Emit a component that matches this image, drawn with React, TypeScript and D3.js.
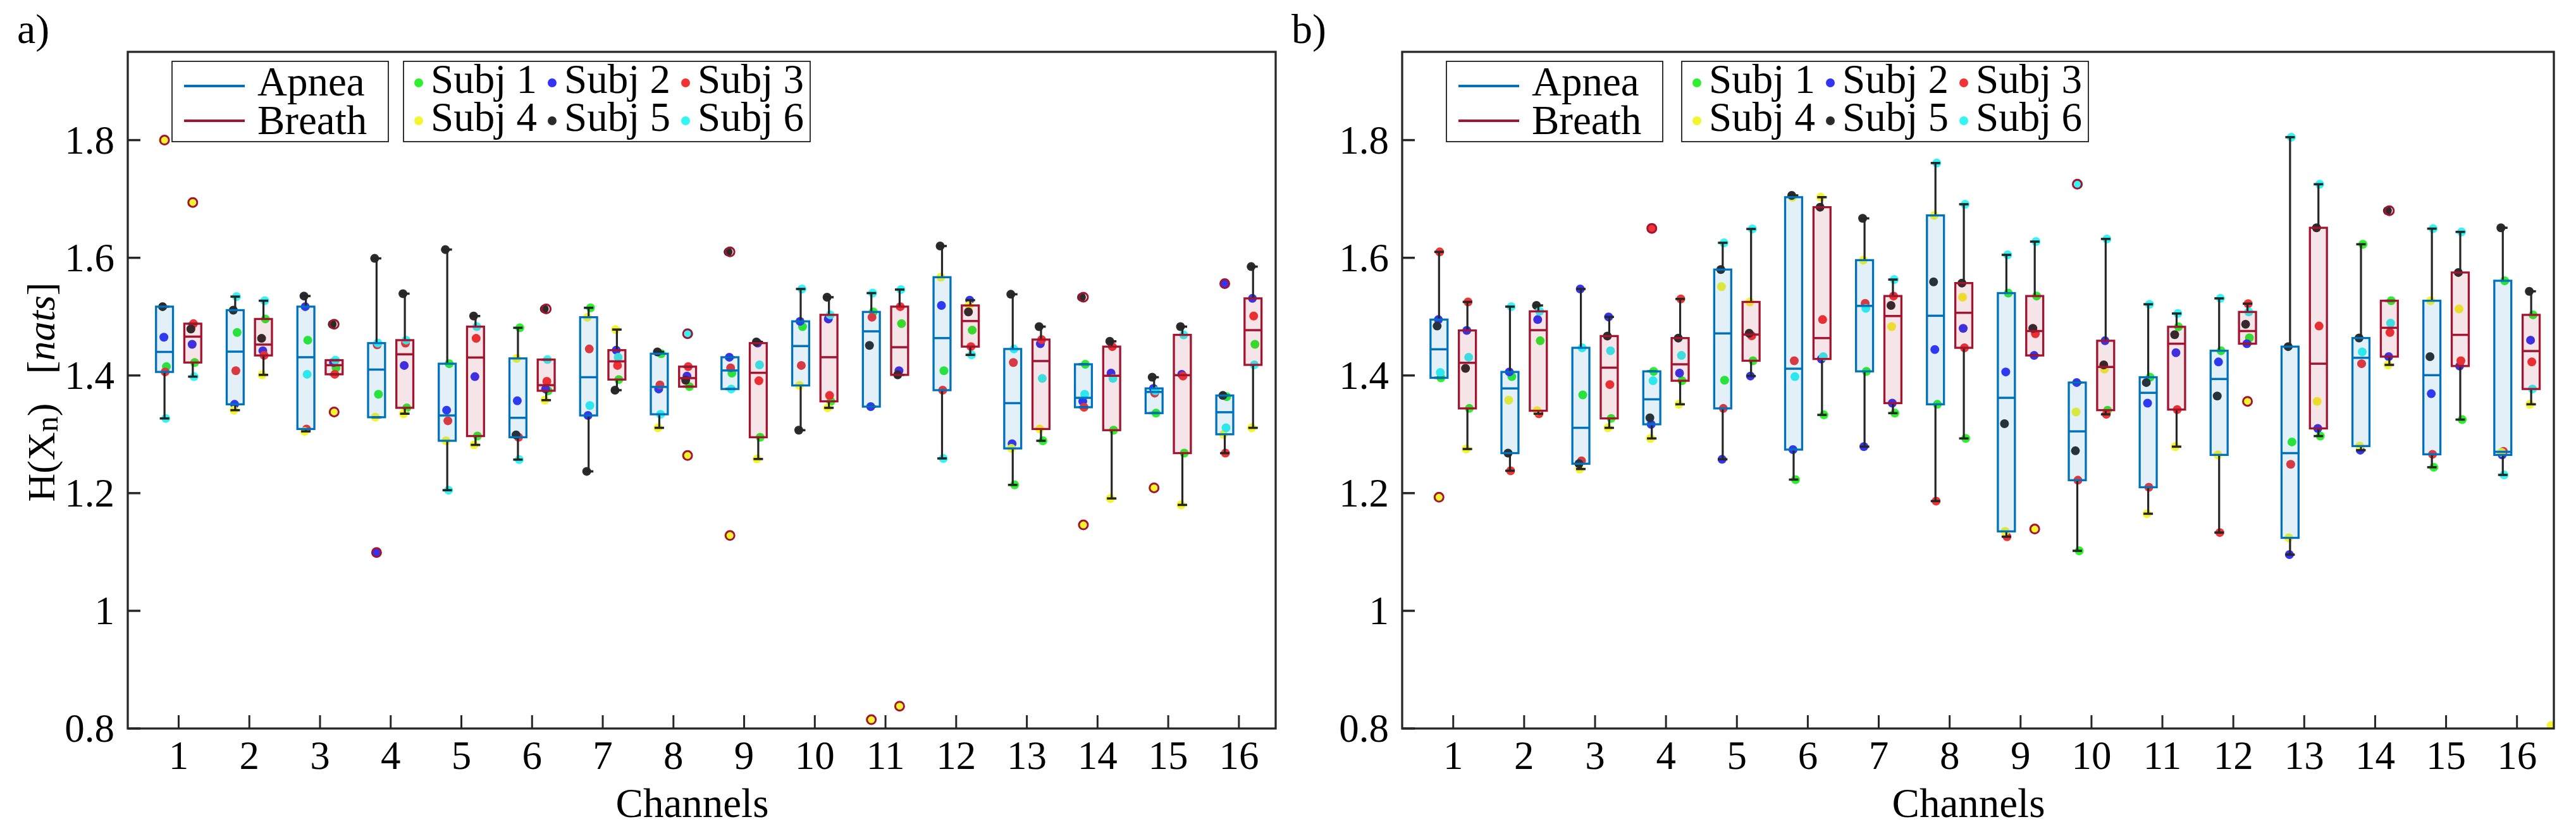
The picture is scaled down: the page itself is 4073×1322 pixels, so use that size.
import React from 'react';
import * as d3 from 'd3';

// ---------------- DATA ----------------
const channels = d3.range(1, 17);
const subjectNames = ['Subj 1', 'Subj 2', 'Subj 3', 'Subj 4', 'Subj 5', 'Subj 6'];
const subjectColors = ['#2EF02E', '#3333F5', '#F23333', '#F5F52E', '#2B2B2B', '#33F5F5'];
const conditionNames = ['Apnea', 'Breath'];
const conditionColors = ['#0072BD', '#A2142F'];
const yTicks = [0.8, 1, 1.2, 1.4, 1.6, 1.8];
const yTickLabels = ['0.8', '1', '1.2', '1.4', '1.6', '1.8'];
const panelLabels = ['a)', 'b)'];

// rows = channels 1..16, columns = Subj 1..6
const apneaA = [
  [1.415, 1.465, 1.406, 1.8, 1.517, 1.327],
  [1.473, 1.351, 1.408, 1.341, 1.511, 1.534],
  [1.46, 1.517, 1.309, 1.305, 1.535, 1.402],
  [1.368, 1.099, 1.452, 1.329, 1.599, 1.455],
  [1.42, 1.341, 1.323, 1.289, 1.614, 1.205],
  [1.481, 1.357, 1.295, 1.429, 1.299, 1.257],
  [1.515, 1.332, 1.445, 1.499, 1.237, 1.349],
  [1.437, 1.377, 1.384, 1.311, 1.44, 1.334],
  [1.404, 1.431, 1.413, 1.128, 1.61, 1.377],
  [1.483, 1.492, 1.417, 1.383, 1.307, 1.547],
  [1.508, 1.347, 1.499, 0.815, 1.451, 1.54],
  [1.408, 1.519, 1.375, 1.567, 1.62, 1.259],
  [1.214, 1.284, 1.422, 1.276, 1.538, 1.445],
  [1.419, 1.356, 1.346, 1.146, 1.533, 1.368],
  [1.336, 1.378, 1.37, 1.209, 1.397, 1.374],
  [1.364, 1.556, 1.268, 1.3, 1.366, 1.311],
];
const breathA = [
  [1.422, 1.453, 1.488, 1.694, 1.479, 1.398],
  [1.496, 1.442, 1.434, 1.401, 1.463, 1.527],
  [1.413, 1.422, 1.402, 1.338, 1.487, 1.426],
  [1.345, 1.417, 1.455, 1.335, 1.539, 1.46],
  [1.297, 1.398, 1.463, 1.282, 1.501, 1.483],
  [1.374, 1.377, 1.39, 1.358, 1.513, 1.427],
  [1.393, 1.443, 1.417, 1.478, 1.375, 1.431],
  [1.381, 1.399, 1.415, 1.264, 1.392, 1.471],
  [1.295, 1.455, 1.391, 1.258, 1.457, 1.418],
  [1.356, 1.496, 1.366, 1.345, 1.533, 1.503],
  [1.488, 1.408, 1.517, 0.838, 1.401, 1.546],
  [1.477, 1.528, 1.449, 1.519, 1.508, 1.435],
  [1.289, 1.454, 1.461, 1.309, 1.483, 1.395],
  [1.307, 1.404, 1.449, 1.191, 1.458, 1.395],
  [1.268, 1.402, 1.399, 1.18, 1.483, 1.469],
  [1.453, 1.531, 1.501, 1.311, 1.585, 1.418],
];
const apneaB = [
  [1.396, 1.495, 1.61, 1.193, 1.484, 1.405],
  [1.398, 1.406, 1.238, 1.358, 1.268, 1.517],
  [1.367, 1.547, 1.255, 1.241, 1.25, 1.447],
  [1.407, 1.317, 1.65, 1.293, 1.328, 1.391],
  [1.392, 1.2575, 1.344, 1.551, 1.58, 1.6255],
  [1.223, 1.274, 1.425, 1.703, 1.706, 1.398],
  [1.407, 1.279, 1.5225, 1.596, 1.667, 1.514],
  [1.351, 1.444, 1.1865, 1.672, 1.559, 1.761],
  [1.54, 1.406, 1.126, 1.135, 1.318, 1.605],
  [1.102, 1.388, 1.222, 1.338, 1.272, 1.725],
  [1.397, 1.353, 1.21, 1.165, 1.388, 1.521],
  [1.442, 1.423, 1.133, 1.265, 1.365, 1.531],
  [1.287, 1.0955, 1.249, 1.124, 1.449, 1.805],
  [1.623, 1.273, 1.42, 1.28, 1.4636, 1.44],
  [1.244, 1.369, 1.266, 1.527, 1.432, 1.6495],
  [1.561, 1.265, 1.271, 1.2695, 1.651, 1.231],
];
const breathB = [
  [1.344, 1.4765, 1.525, 1.275, 1.412, 1.431],
  [1.459, 1.495, 1.335, 1.34, 1.519, 1.509],
  [1.327, 1.4995, 1.3845, 1.311, 1.467, 1.442],
  [1.391, 1.404, 1.53, 1.351, 1.4635, 1.434],
  [1.425, 1.399, 1.4674, 1.525, 1.4717, 1.649],
  [1.333, 1.428, 1.495, 1.703, 1.686, 1.432],
  [1.336, 1.353, 1.535, 1.483, 1.519, 1.563],
  [1.293, 1.48, 1.447, 1.533, 1.557, 1.691],
  [1.535, 1.434, 1.471, 1.139, 1.48, 1.6275],
  [1.341, 1.459, 1.334, 1.411, 1.418, 1.632],
  [1.4827, 1.4386, 1.342, 1.279, 1.4693, 1.5053],
  [1.464, 1.454, 1.522, 1.356, 1.487, 1.508],
  [1.297, 1.31, 1.484, 1.356, 1.651, 1.725],
  [1.527, 1.432, 1.473, 1.418, 1.68, 1.489],
  [1.325, 1.416, 1.425, 1.513, 1.575, 1.644],
  [1.503, 1.46, 1.423, 1.351, 1.543, 1.377],
];
// a stray (clipped) point in the bottom-right corner of panel b
const strayChannelB = [16.48];
const strayValueB = [0.805];
const straySubjectB = [3];

// ---------------- STYLE / LAYOUT ----------------
const W = 4073;
const H = 1322;
const TOP = 82;
const BOTTOM = 1152;
const FONT = '"Liberation Serif", "Times New Roman", serif';
const AXIS = '#262626';
const OUTLIER = '#A2142F';
const jitterPx = [3, -1, 1, -2, -3, 2];

type PanelCfg = {
  left: number;
  right: number;
  apnea: number[][];
  breath: number[][];
  label: string;
  yLabel: boolean;
  leg1: number;
  leg2: number;
  strays: { ch: number; v: number; s: number }[];
  id: string;
};

function prctile(sorted: number[], p: number) {
  const n = sorted.length;
  const pos = p * n + 0.5;
  if (pos <= 1) return sorted[0];
  if (pos >= n) return sorted[n - 1];
  const i = Math.floor(pos);
  const f = pos - i;
  return sorted[i - 1] + f * (sorted[i] - sorted[i - 1]);
}

function boxStats(values: number[]) {
  const s = values.slice().sort(d3.ascending);
  const q1 = prctile(s, 0.25);
  const med = prctile(s, 0.5);
  const q3 = prctile(s, 0.75);
  const iqr = q3 - q1;
  const lo = q1 - 1.5 * iqr;
  const hi = q3 + 1.5 * iqr;
  const inside = s.filter((v) => v >= lo && v <= hi);
  return {
    q1,
    med,
    q3,
    wLo: d3.min(inside) as number,
    wHi: d3.max(inside) as number,
    outliers: s.filter((v) => v < lo || v > hi),
  };
}

const yScale = d3.scaleLinear().domain([0.8, 1.95]).range([BOTTOM, TOP]);

function Panel({ cfg }: { cfg: PanelCfg }) {
  const x = d3.scaleLinear().domain([0.28, 16.52]).range([cfg.left, cfg.right]);
  const unit = x(1) - x(0);
  const halfW = 0.12 * unit;
  const capHalf = 7.5;
  const groups = [
    { data: cfg.apnea, off: -0.2, ci: 0 },
    { data: cfg.breath, off: 0.2, ci: 1 },
  ];
  const clipId = 'clip-' + cfg.id;

  return (
    <g>
      <defs>
        <clipPath id={clipId}>
          <rect x={cfg.left} y={TOP} width={cfg.right - cfg.left} height={BOTTOM - TOP} />
        </clipPath>
      </defs>
      <g clipPath={`url(#${clipId})`}>
        {/* subject dots */}
        {groups.map((g) =>
          channels.map((ch, ci) =>
            g.data[ci].map((v, si) => (
              <circle
                key={`d-${g.ci}-${ch}-${si}`}
                cx={x(ch + g.off) + jitterPx[si]}
                cy={yScale(v)}
                r={7}
                fill={subjectColors[si]}
              />
            ))
          )
        )}
        {cfg.strays.map((p, i) => (
          <circle key={`st-${i}`} cx={x(p.ch)} cy={yScale(p.v)} r={7} fill={subjectColors[p.s]} />
        ))}
        {/* boxes */}
        {groups.map((g) =>
          channels.map((ch, ci) => {
            const st = boxStats(g.data[ci]);
            const cx = x(ch + g.off);
            const col = conditionColors[g.ci];
            return (
              <g key={`b-${g.ci}-${ch}`}>
                <line x1={cx} x2={cx} y1={yScale(st.q3)} y2={yScale(st.wHi)} stroke={AXIS} strokeWidth={3.2} />
                <line x1={cx} x2={cx} y1={yScale(st.q1)} y2={yScale(st.wLo)} stroke={AXIS} strokeWidth={3.2} />
                <line x1={cx - capHalf} x2={cx + capHalf} y1={yScale(st.wHi)} y2={yScale(st.wHi)} stroke={AXIS} strokeWidth={3.6} />
                <line x1={cx - capHalf} x2={cx + capHalf} y1={yScale(st.wLo)} y2={yScale(st.wLo)} stroke={AXIS} strokeWidth={3.6} />
                <rect
                  x={cx - halfW}
                  y={yScale(st.q3)}
                  width={2 * halfW}
                  height={yScale(st.q1) - yScale(st.q3)}
                  fill={col}
                  fillOpacity={0.11}
                  stroke={col}
                  strokeWidth={3.3}
                />
                <line x1={cx - halfW} x2={cx + halfW} y1={yScale(st.med)} y2={yScale(st.med)} stroke={col} strokeWidth={3.5} />
                {st.outliers.map((o, k) => (
                  <circle key={k} cx={cx} cy={yScale(o)} r={7} fill="none" stroke={OUTLIER} strokeWidth={3} />
                ))}
              </g>
            );
          })
        )}
      </g>

      {/* frame */}
      <rect x={cfg.left} y={TOP} width={cfg.right - cfg.left} height={BOTTOM - TOP} fill="none" stroke={AXIS} strokeWidth={3.3} />
      {/* y ticks */}
      {yTicks.map((t, i) => (
        <g key={`yt-${i}`}>
          <line x1={cfg.left} x2={cfg.left + 20} y1={yScale(t)} y2={yScale(t)} stroke={AXIS} strokeWidth={3.5} />
          <text x={cfg.left - 21} y={yScale(t) + 21} textAnchor="end" fontFamily={FONT} fontSize={63} fill="#000">
            {yTickLabels[i]}
          </text>
        </g>
      ))}
      {/* x ticks */}
      {channels.map((ch) => (
        <g key={`xt-${ch}`}>
          <line x1={x(ch)} x2={x(ch)} y1={BOTTOM} y2={BOTTOM - 21} stroke={AXIS} strokeWidth={3} />
          <text x={x(ch)} y={1216} textAnchor="middle" fontFamily={FONT} fontSize={63} fill="#000">
            {String(ch)}
          </text>
        </g>
      ))}
      <text x={(cfg.left + cfg.right) / 2 - 15} y={1292} textAnchor="middle" fontFamily={FONT} fontSize={65} fill="#000">
        Channels
      </text>
      <text x={cfg.left - 175} y={68} fontFamily={FONT} fontSize={66} fill="#000">
        {cfg.label}
      </text>
      {cfg.yLabel && (
        <text transform={`translate(86, 620) rotate(-90)`} textAnchor="middle" fontFamily={FONT} fontSize={62} fill="#000">
          H(X
          <tspan fontSize={50} dy={5}>n</tspan>
          <tspan dy={-5}>){'\u00A0\u00A0\u00A0'}[</tspan>
          <tspan fontStyle="italic">nats</tspan>
          <tspan>]</tspan>
        </text>
      )}

      {/* legend 1: conditions */}
      <g>
        <rect x={cfg.left + cfg.leg1} y={97} width={342} height={127} fill="#fff" stroke="#000" strokeWidth={1.6} />
        {conditionNames.map((name, i) => (
          <g key={name}>
            <line
              x1={cfg.left + cfg.leg1 + 19}
              x2={cfg.left + cfg.leg1 + 115}
              y1={136 + i * 55}
              y2={136 + i * 55}
              stroke={conditionColors[i]}
              strokeWidth={4}
            />
            <text x={cfg.left + cfg.leg1 + 135} y={151 + i * 61} fontFamily={FONT} fontSize={65} fill="#000">
              {name}
            </text>
          </g>
        ))}
      </g>
      {/* legend 2: subjects */}
      <g>
        <rect x={cfg.left + cfg.leg2} y={97} width={643} height={127} fill="#fff" stroke="#000" strokeWidth={1.6} />
        {subjectNames.map((name, i) => {
          const col = i % 3;
          const row = Math.floor(i / 3);
          const dx = cfg.left + cfg.leg2 + 24 + col * 211;
          const base = 147 + row * 60;
          return (
            <g key={name}>
              <circle cx={dx} cy={base - 16} r={7} fill={subjectColors[i]} />
              <text x={dx + 19} y={base} fontFamily={FONT} fontSize={65} fill="#000">
                {name}
              </text>
            </g>
          );
        })}
      </g>
    </g>
  );
}

const panels: PanelCfg[] = [
  {
    id: 'a',
    left: 202,
    right: 2017,
    apnea: apneaA,
    breath: breathA,
    label: panelLabels[0],
    yLabel: true,
    leg1: 70,
    leg2: 436,
    strays: [],
  },
  {
    id: 'b',
    left: 2217,
    right: 4038,
    apnea: apneaB,
    breath: breathB,
    label: panelLabels[1],
    yLabel: false,
    leg1: 70,
    leg2: 442,
    strays: strayChannelB.map((c, i) => ({ ch: c, v: strayValueB[i], s: straySubjectB[i] })),
  },
];

export default function App() {
  return (
    <svg
      width={W}
      height={H}
      viewBox={`0 0 ${W} ${H}`}
      style={{ position: 'absolute', left: 0, top: 0, background: '#fff' }}
    >
      <rect x={0} y={0} width={W} height={H} fill="#fff" />
      {panels.map((p) => (
        <Panel key={p.id} cfg={p} />
      ))}
    </svg>
  );
}
